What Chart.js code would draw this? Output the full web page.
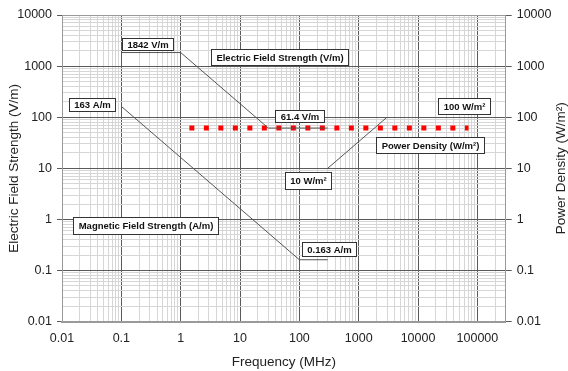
<!DOCTYPE html>
<html>
<head>
<meta charset="utf-8">
<script src="https://cdn.jsdelivr.net/npm/chart.js@4/dist/chart.umd.min.js"></script>
<style>
  html, body { margin: 0; padding: 0; background: #fff; }
  #wrap { width: 568px; height: 371px; position: relative; }
</style>
</head>
<body>
<div id="wrap"><canvas id="c" width="568" height="371"></canvas></div>
<script>
// ---- data ----
const freqE = [0.1, 1, 30, 300];            // MHz
const eField = [1842, 1842, 61.4, 61.4];    // V/m
const freqH = [0.1, 100, 300];              // MHz
const hField = [163, 0.163, 0.163];         // A/m
const freqS = [300, 3000];                  // MHz
const powerDensity = [10, 100];             // W/m2
const freqLimit = [1.4, 71000];             // MHz (red dotted line)
const limitLevel = [61.4, 61.4];            // V/m

const xTickValues = [0.01, 0.1, 1, 10, 100, 1000, 10000, 100000];
const xTickLabels = ['0.01', '0.1', '1', '10', '100', '1000', '10000', '100000'];
const yTickValues = [0.01, 0.1, 1, 10, 100, 1000, 10000];
const yTickLabels = ['0.01', '0.1', '1', '10', '100', '1000', '10000'];

const boxTexts = ['1842 V/m', 'Electric Field Strength (V/m)', '163 A/m', '61.4 V/m',
  '100 W/m²', 'Power Density (W/m²)', '10 W/m²', 'Magnetic Field Strength (A/m)', '0.163 A/m'];
// anchor (box centre) in data coordinates (MHz, value) and box heights
const boxAnchorF = [0.282, 46.7, 0.0321, 98.9, 59000, 15900, 143, 0.257, 313];
const boxAnchorV = [2649, 1476, 177, 109, 170, 29.3, 5.75, 0.78, 0.263];
const boxHeights = [12, 16, 12.5, 11.5, 15.5, 15.5, 16.5, 16.5, 13.5];

const rightTitle = 'Power Density (W/m²)';

// ---- helpers ----
const X_MIN = 0.01, X_MAX = 300000, Y_MIN = 0.01, Y_MAX = 10000;
function logTicks(min, max) {
  const out = [];
  for (let e = Math.floor(Math.log10(min)); e <= Math.ceil(Math.log10(max)); e++) {
    for (let m = 1; m <= 9; m++) {
      const v = m * Math.pow(10, e);
      if (v >= min * 0.9999 && v <= max * 1.0001) out.push({ value: v });
    }
  }
  return out;
}
const isMajor = v => Math.abs(Math.log10(v) - Math.round(Math.log10(v))) < 1e-9;
function labelFor(values, labels, v) {
  for (let i = 0; i < values.length; i++) {
    if (Math.abs(Math.log10(values[i]) - Math.log10(v)) < 1e-9) return labels[i];
  }
  return '';
}
const pts = (xs, ys) => xs.map((x, i) => ({ x: x, y: ys[i] }));

const FRAME = '#9a9a9a', MAJOR = '#5a5a5a', MINOR = '#d6d6d6';
const FONT = '"Liberation Sans", Arial, sans-serif';

function gridColor(min, max) {
  return ctx => {
    const v = ctx.tick && ctx.tick.value;
    if (v === undefined) return MINOR;
    if (Math.abs(v - min) / min < 1e-6 || Math.abs(v - max) / max < 1e-6) return FRAME;
    return isMajor(v) ? MAJOR : MINOR;
  };
}
const tickColor = ctx => (ctx.tick && isMajor(ctx.tick.value)) ? MAJOR : 'rgba(0,0,0,0)';

const boxPlugin = {
  id: 'boxLabels',
  afterDatasetsDraw(chart) {
    const { ctx, scales } = chart;
    ctx.save();
    ctx.font = 'bold 9.5px ' + FONT;
    ctx.textAlign = 'center';
    ctx.textBaseline = 'middle';
    for (let i = 0; i < boxTexts.length; i++) {
      const cx = scales.x.getPixelForValue(boxAnchorF[i]);
      const cy = scales.y.getPixelForValue(boxAnchorV[i]);
      const w = ctx.measureText(boxTexts[i]).width + 10;
      const h = boxHeights[i];
      const l = Math.round(cx - w / 2) + 0.5, t = Math.round(cy - h / 2) + 0.5;
      ctx.fillStyle = '#fff';
      ctx.fillRect(l, t, Math.round(w), Math.round(h));
      ctx.strokeStyle = '#333';
      ctx.lineWidth = 1;
      ctx.strokeRect(l, t, Math.round(w), Math.round(h));
      ctx.fillStyle = '#111';
      ctx.fillText(boxTexts[i], l + Math.round(w) / 2, t + Math.round(h) / 2 + 0.5);
    }
    ctx.restore();
  },
  afterDraw(chart) {
    const { ctx, chartArea } = chart;
    ctx.save();
    ctx.font = '13.5px ' + FONT;
    ctx.fillStyle = '#222';
    ctx.textAlign = 'center';
    ctx.textBaseline = 'middle';
    ctx.translate(561, (chartArea.top + chartArea.bottom) / 2);
    ctx.rotate(-Math.PI / 2);
    ctx.fillText(rightTitle, 0, 0);
    ctx.restore();
  }
};

const lineDs = (data, axis) => ({
  data: data, yAxisID: axis, borderColor: '#555', borderWidth: 1,
  pointRadius: 0, fill: false, tension: 0
});

new Chart(document.getElementById('c'), {
  type: 'line',
  data: {
    datasets: [
      Object.assign(lineDs(pts(freqE, eField), 'y'), { label: 'Electric Field Strength (V/m)' }),
      Object.assign(lineDs(pts(freqH, hField), 'y'), { label: 'Magnetic Field Strength (A/m)' }),
      Object.assign(lineDs(pts(freqS, powerDensity), 'y2'), { label: 'Power Density (W/m²)' }),
      {
        label: 'Limit', data: pts(freqLimit, limitLevel), yAxisID: 'y',
        borderColor: '#ff0000', borderWidth: 5, borderDash: [5, 9.5], borderCapStyle: 'butt',
        pointRadius: 0, fill: false
      }
    ]
  },
  options: {
    responsive: false,
    animation: false,
    devicePixelRatio: 1,
    layout: { padding: { top: 15, left: 0, right: 0, bottom: 0 } },
    plugins: { legend: { display: false }, tooltip: { enabled: false } },
    scales: {
      x: {
        type: 'logarithmic', min: X_MIN, max: X_MAX, position: 'bottom',
        afterBuildTicks: s => { s.ticks = logTicks(X_MIN, X_MAX); },
        afterFit: s => { s.height = 49.3; },
        ticks: {
          autoSkip: false, maxRotation: 0, minRotation: 0, padding: 9,
          color: '#222', font: { family: FONT, size: 12.5 },
          callback: v => labelFor(xTickValues, xTickLabels, v)
        },
        grid: { color: gridColor(X_MIN, X_MAX), lineWidth: 1, drawTicks: false },
        border: { display: true, color: FRAME, width: 2 },
        title: { display: true, text: 'Frequency (MHz)', color: '#222',
                 font: { family: FONT, size: 13.5 }, padding: { top: 0, bottom: 0.6 } }
      },
      y: {
        type: 'logarithmic', min: Y_MIN, max: Y_MAX, position: 'left',
        afterBuildTicks: s => { s.ticks = logTicks(Y_MIN, Y_MAX); },
        afterFit: s => { s.width = 62; },
        ticks: {
          autoSkip: false, padding: 5, color: '#222', font: { family: FONT, size: 12.5 },
          callback: v => labelFor(yTickValues, yTickLabels, v)
        },
        grid: { color: gridColor(Y_MIN, Y_MAX), lineWidth: 1, drawTicks: true, tickLength: 5, tickColor: tickColor },
        border: { display: true, color: FRAME, width: 1 },
        title: { display: true, text: 'Electric Field Strength (V/m)', color: '#222',
                 font: { family: FONT, size: 13.5 }, padding: { top: 6, bottom: 0 } }
      },
      y2: {
        type: 'logarithmic', min: Y_MIN, max: Y_MAX, position: 'right',
        afterBuildTicks: s => { s.ticks = logTicks(Y_MIN, Y_MAX); },
        afterFit: s => { s.width = 62.3; },
        ticks: {
          autoSkip: false, padding: 5, color: '#222', font: { family: FONT, size: 12.5 },
          callback: v => labelFor(yTickValues, yTickLabels, v)
        },
        grid: { drawOnChartArea: false, drawTicks: true, tickLength: 6, tickColor: tickColor },
        border: { display: true, color: FRAME, width: 1 },
        title: { display: false }
      }
    }
  },
  plugins: [boxPlugin]
});
</script>
</body>
</html>
